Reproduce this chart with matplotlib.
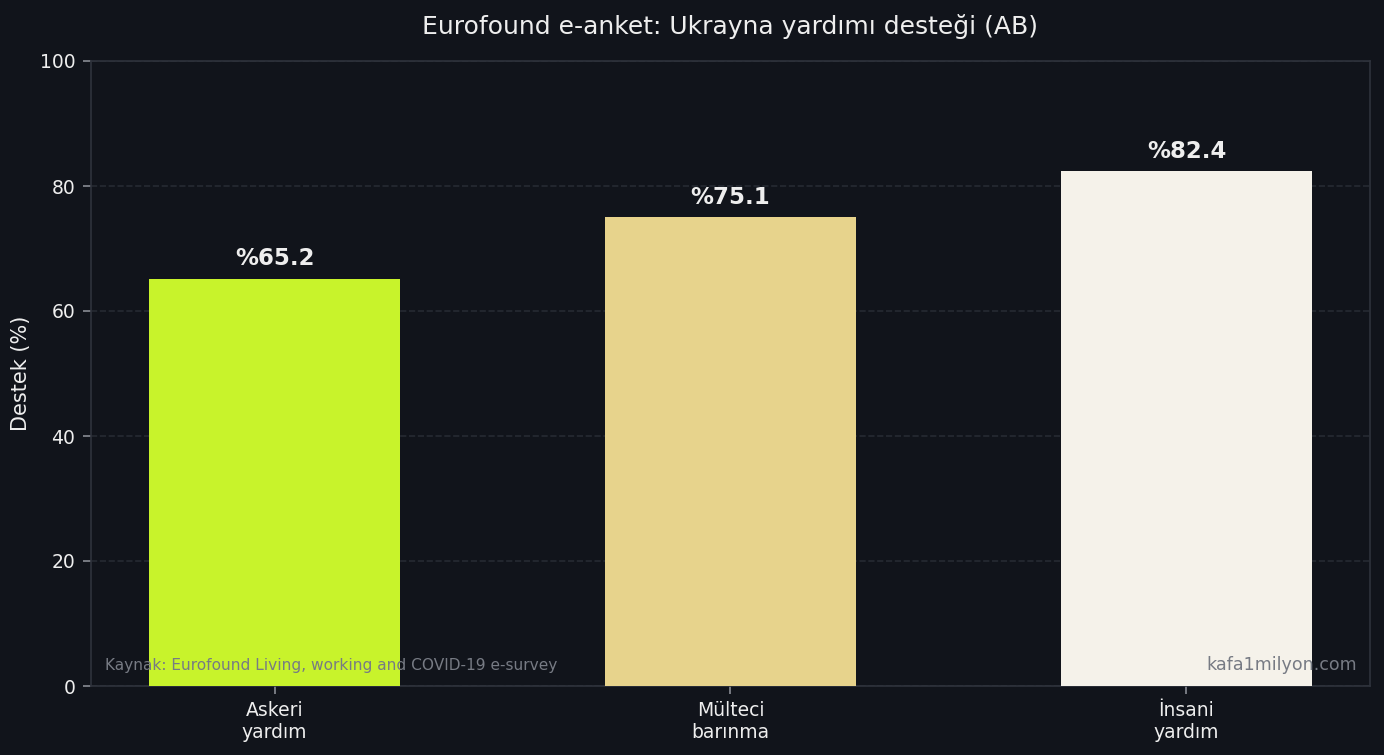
import matplotlib
matplotlib.use("Agg")
from matplotlib import pyplot as plt

categories = ["Askeri\nyardım", "Mülteci\nbarınma", "İnsani\nyardım"]
values = [65.2, 75.1, 82.4]
colors = ["#c8f32b", "#e7d38c", "#f5f2ea"]
title = "Eurofound e-anket: Ukrayna yardımı desteği (AB)"
source = "Kaynak: Eurofound Living, working and COVID-19 e-survey"
brand = "kafa1milyon.com"

bg = "#11141b"
fg = "#eeeeee"

fig = plt.figure(figsize=(1384/150, 755/150), dpi=150, facecolor=bg)
ax = fig.add_axes([91/1384, 1-686/755, 1279/1384, 625/755])
ax.set_facecolor(bg)

x = range(len(categories))
bars = ax.bar(x, values, width=0.55, color=colors, zorder=3)
for b, v in zip(bars, values):
    ax.text(b.get_x()+b.get_width()/2, v+1.3, f"%{v:.1f}", ha="center", va="bottom",
            color=fg, fontsize=11, fontweight="bold", zorder=5)

ax.set_xticks(list(x))
ax.set_xticklabels(categories, color=fg, fontsize=9)
ax.set_ylim(0, 100)
ax.set_yticks(range(0, 101, 20))
ax.tick_params(axis="y", colors="#888c94", labelcolor=fg, labelsize=9, length=4)
ax.tick_params(axis="x", colors="#888c94", labelcolor=fg, length=4, pad=3)
ax.set_ylabel("Destek (%)", color=fg, fontsize=10)
ax.set_title(title, color=fg, fontsize=12, pad=13)
ax.yaxis.grid(True, linestyle="--", color="#262a33", linewidth=0.8, zorder=0)
ax.set_axisbelow(True)
for s in ax.spines.values():
    s.set_color("#2f333c")

ax.text(0.011, 0.026, source, transform=ax.transAxes, color="#777b84", fontsize=7.4, zorder=6)
ax.text(0.99, 0.026, brand, transform=ax.transAxes, color="#777b84", fontsize=8.4, ha="right", zorder=6)

fig.savefig("out.png", dpi=150, facecolor=bg)
